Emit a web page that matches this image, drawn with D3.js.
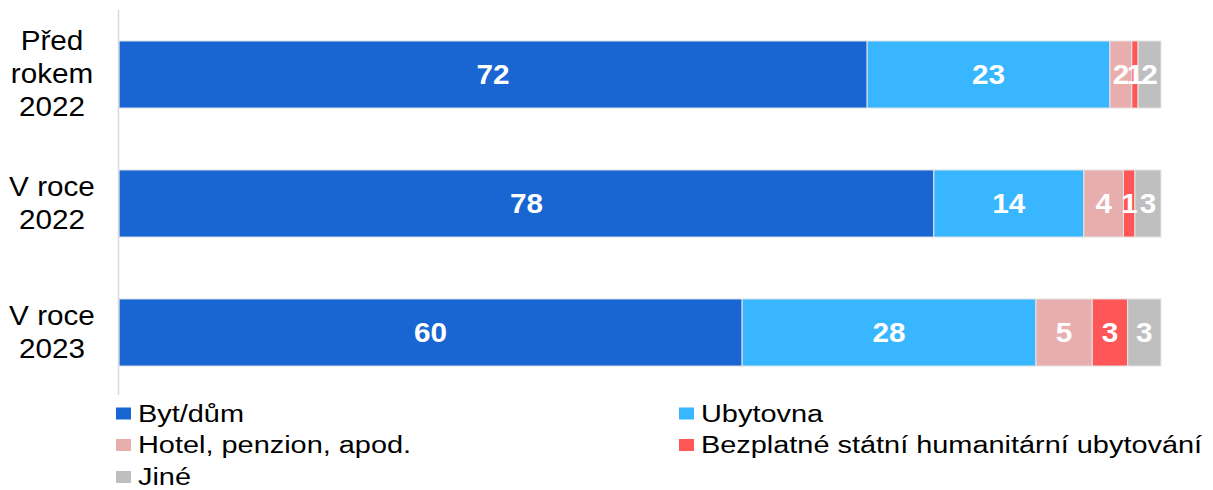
<!DOCTYPE html>
<meta charset="utf-8">
<script src="https://d3js.org/d3.v7.js"></script>
<style>
  body { margin: 0; background: #fff; }
  text { font-family: "Liberation Sans", Arial, sans-serif; }
</style>
<div id="my_dataviz"></div>
<script>

// categories (rows) and series
const categories = [["Před", "rokem", "2022"], ["V roce", "2022"], ["V roce", "2023"]];
const seriesNames = ["Byt/dům", "Ubytovna", "Hotel, penzion, apod.", "Bezplatné státní humanitární ubytování", "Jiné"];
const colors = ["#1966D2", "#38B6FF", "#E8AEAE", "#FF5757", "#BFBFBF"];

// values per row (share in %)
const bytDum    = [71.8, 78.2, 59.8];
const ubytovna  = [23.3, 14.4, 28.2];
const hotel     = [2.1, 3.8, 5.4];
const bezplatne = [0.6, 1.1, 3.4];
const jine      = [2.2, 2.5, 3.2];
// labels shown in the bars
const labels = [
  ["72", "23", "2", "1", "2"],
  ["78", "14", "4", "1", "3"],
  ["60", "28", "5", "3", "3"]
];

const width = 1213, height = 490;
const margin = {top: 10, right: 52, bottom: 93, left: 119};

const svg = d3.select("#my_dataviz")
  .append("svg")
  .attr("width", width)
  .attr("height", height);

const series = [bytDum, ubytovna, hotel, bezplatne, jine];
const rows = categories.map((c, i) => {
  const r = {idx: i};
  seriesNames.forEach((s, j) => r[s] = series[j][i]);
  return r;
});
const stacked = d3.stack().keys(seriesNames)(rows);

const x = d3.scaleLinear()
  .domain([0, 100])
  .range([margin.left, width - margin.right]);

const y = d3.scaleBand()
  .domain(d3.range(categories.length))
  .range([margin.top, height - margin.bottom])
  .paddingInner(0.48)
  .paddingOuter(0.24);

// bars
const layer = svg.append("g")
  .selectAll("g")
  .data(stacked)
  .join("g")
    .attr("fill", (d, i) => colors[i]);

layer.selectAll("rect")
  .data(d => d)
  .join("rect")
    .attr("x", d => x(d[0]))
    .attr("y", d => y(d.data.idx))
    .attr("width", d => x(d[1]) - x(d[0]))
    .attr("height", y.bandwidth())
    .attr("stroke", "#e6e6e6")
    .attr("stroke-width", 1);

// value labels (text is a little wide in the original)
stacked.forEach((s, j) => {
  svg.append("g")
    .selectAll("text")
    .data(s)
    .join("text")
      .attr("transform", d => `translate(${(x(d[0]) + x(d[1])) / 2},${y(d.data.idx) + y.bandwidth() / 2}) scale(1.1,1)`)
      .attr("dy", "0.36em")
      .attr("text-anchor", "middle")
      .attr("fill", "#fff")
      .style("font-size", "27px")
      .style("font-weight", "bold")
      .text(d => labels[d.data.idx][j]);
});

// axis line
svg.append("line")
  .attr("x1", margin.left - 0.5).attr("x2", margin.left - 0.5)
  .attr("y1", margin.top).attr("y2", height - margin.bottom - 2)
  .attr("stroke", "#d9d9d9")
  .attr("stroke-width", 1.5);

// category labels
const lineH = 33;
categories.forEach((lines, i) => {
  const cy = y(i) + y.bandwidth() / 2;
  const t = svg.append("text")
    .attr("transform", `translate(52,${cy}) scale(1.06,1)`)
    .attr("text-anchor", "middle")
    .attr("fill", "#000")
    .style("font-size", "28px");
  lines.forEach((l, k) => {
    t.append("tspan")
      .attr("x", 0)
      .attr("y", (k - (lines.length - 1) / 2) * lineH)
      .attr("dy", "0.31em")
      .text(l);
  });
});

// legend
const legendPos = [[116, 413.5], [679, 413.5], [116, 445], [679, 445], [116, 477]];
const legend = svg.append("g")
  .selectAll("g")
  .data(seriesNames)
  .join("g")
    .attr("transform", (d, i) => `translate(${legendPos[i][0]},${legendPos[i][1]})`);

legend.append("rect")
  .attr("x", 0).attr("y", -6)
  .attr("width", 15).attr("height", 12)
  .attr("fill", (d, i) => colors[i]);

legend.append("text")
  .attr("transform", "translate(22,0) scale(1.23,1)")
  .attr("dy", "0.35em")
  .style("font-size", "23.5px")
  .attr("fill", "#000")
  .text(d => d);

</script>
